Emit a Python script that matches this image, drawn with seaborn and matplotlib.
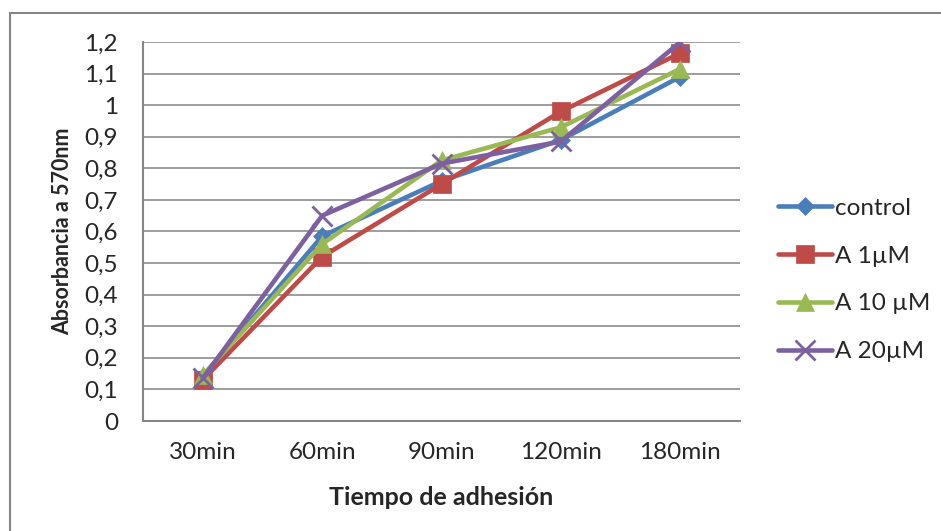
import matplotlib
matplotlib.use("Agg")
import matplotlib.pyplot as plt
import seaborn as sns
import pandas as pd
from matplotlib.patches import Rectangle

categories = ["30min", "60min", "90min", "120min", "180min"]
control = [0.14, 0.585, 0.76, 0.89, 1.09]
a_1uM = [0.13, 0.52, 0.75, 0.98, 1.165]
a_10uM = [0.145, 0.56, 0.825, 0.93, 1.115]
a_20uM = [0.135, 0.65, 0.815, 0.885, 1.2]
series_names = ["control", "A 1µM", "A 10 µM", "A 20µM"]
y_ticks = [0, 0.1, 0.2, 0.3, 0.4, 0.5, 0.6, 0.7, 0.8, 0.9, 1.0, 1.1, 1.2]
y_tick_labels = ["0", "0,1", "0,2", "0,3", "0,4", "0,5", "0,6", "0,7", "0,8", "0,9", "1", "1,1", "1,2"]

sns.set_style("white")
plt.rcParams['font.family'] = ['Lato', 'DejaVu Sans']

rows = []
for name, vals in zip(series_names, [control, a_1uM, a_10uM, a_20uM]):
    for i, v in enumerate(vals):
        rows.append({"pos": i, "cat": categories[i], "value": v, "series": name})
df = pd.DataFrame(rows)

colors = ["#4A7EBB", "#BE4B48", "#98B954", "#7D60A0"]
markers = ["D", "s", "^", "x"]
msizes = [9, 13, 13, 14]

fig = plt.figure(figsize=(9.41, 5.31), dpi=100)
ax = fig.add_axes([143/941, 1-421/531, 597/941, 379/531])

for name, c, m, ms in zip(series_names, colors, markers, msizes):
    sub = df[df.series == name]
    sns.lineplot(data=sub, x="pos", y="value", ax=ax, color=c, marker=m,
                 markersize=ms, linewidth=3.3, label=name,
                 markeredgecolor=c, markeredgewidth=2 if m == "x" else 0.5)

ax.set_xlim(-0.5, 4.5)
ax.set_ylim(0, 1.2)
ax.set_xticks(range(len(categories)))
ax.set_xticklabels(categories, fontsize=17.5)
ax.set_yticks(y_ticks)
ax.set_yticklabels(y_tick_labels, fontsize=17.5)
ax.tick_params(axis='y', length=0, pad=18)
ax.tick_params(axis='x', length=0, pad=15)
ax.yaxis.grid(True, color="#8C8C8C", linewidth=1.2)
ax.xaxis.grid(False)
for s in ["top", "right"]:
    ax.spines[s].set_visible(False)
for s in ["left", "bottom"]:
    ax.spines[s].set_color("#868686")
    ax.spines[s].set_linewidth(1.5)
ax.set_xlabel("Tiempo de adhesión", fontsize=18, fontweight="bold", labelpad=17)
ax.set_ylabel("Absorbancia a 570nm", fontsize=15.5, fontweight="bold", labelpad=8)

leg = ax.legend(loc="center left", bbox_to_anchor=(1.064, 0.372), frameon=False,
                fontsize=17.5, handlelength=2.2, handletextpad=0.15, labelspacing=1.1,
                borderaxespad=0, borderpad=0)

fig.patches.append(Rectangle((10/941, -0.1), 1.2, 1-13/531+0.1, transform=fig.transFigure,
                             fill=False, edgecolor="#868686", linewidth=1.5))

fig.savefig("out.png", dpi=100)
